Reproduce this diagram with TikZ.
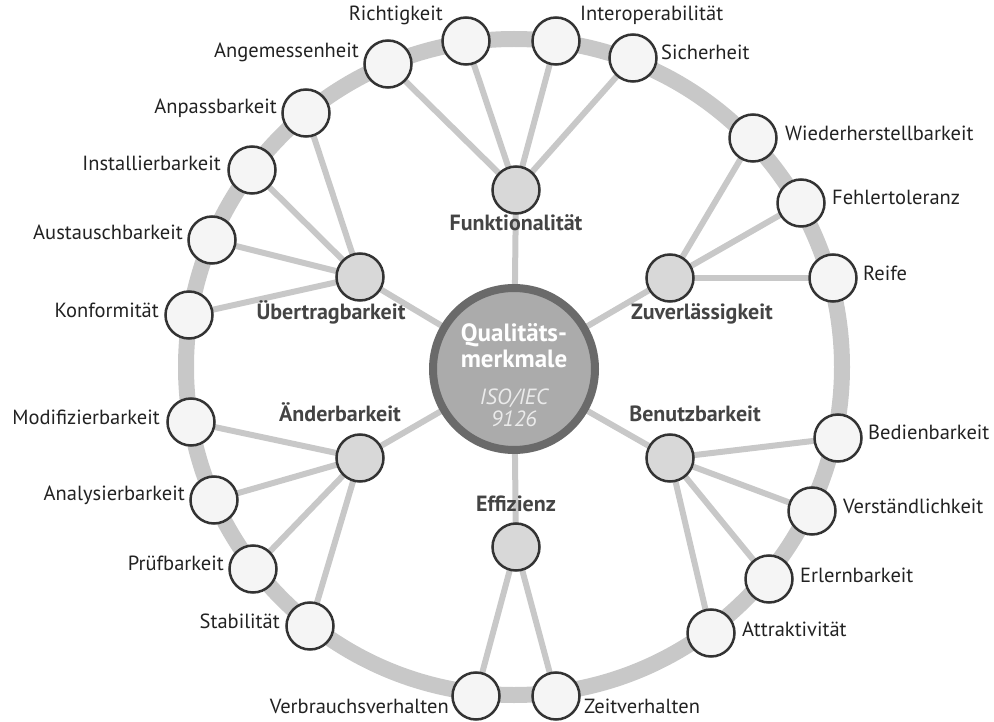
\documentclass[tikz,border=0pt]{standalone}
\usepackage{fontspec}
\setmainfont{PT Sans}
\usetikzlibrary{backgrounds}
\definecolor{ringgray}{HTML}{C8C8C8}
\definecolor{edgegray}{HTML}{333333}
\definecolor{leaffill}{HTML}{F5F5F5}
\definecolor{midfill}{HTML}{D8D8D8}
\definecolor{corefill}{HTML}{ABABAB}
\definecolor{coreedge}{HTML}{6A6A6A}
\definecolor{boldtext}{HTML}{444444}
\definecolor{plaintext}{HTML}{222222}
\tikzset{
  leaf/.style={circle, draw=edgegray, line width=2.5pt, fill=leaffill, minimum size=47pt, inner sep=0pt},
  mid/.style={circle, draw=edgegray, line width=2.5pt, fill=midfill, minimum size=47pt, inner sep=0pt},
  core/.style={circle, draw=coreedge, line width=8pt, fill=corefill, minimum size=162pt, inner sep=0pt},
  lbl/.style={inner sep=0pt, text height=0.7em, text depth=0.2em, font=\fontsize{20.5}{24}\selectfont, text=plaintext},
  grp/.style={inner sep=0pt, text height=0.7em, text depth=0.2em, font=\fontsize{22}{26}\selectfont\bfseries, text=boldtext},
  link/.style={draw=ringgray, line width=6pt},
}
\begin{document}
\begin{tikzpicture}[x=1pt, y=-1pt]
\useasboundingbox (0,0) rectangle (994,722);

% centre and the six characteristics
\node[core] (Q) at (514,369) {};
\node[mid] (F) at (516,190) {};
\node[mid] (U) at (360,277) {};
\node[mid] (Z) at (670,278) {};
\node[mid] (A) at (360,458) {};
\node[mid] (B) at (670,458) {};
\node[mid] (E) at (516,547) {};

% sub-characteristics
\node[leaf] (f1) at (388,64) {};
\node[leaf] (f2) at (466,41) {};
\node[leaf] (f3) at (556,41) {};
\node[leaf] (f4) at (633,58) {};
\node[leaf] (u1) at (306,113) {};
\node[leaf] (u2) at (252,170) {};
\node[leaf] (u3) at (212,240) {};
\node[leaf] (u4) at (189,315) {};
\node[leaf] (z1) at (753,138) {};
\node[leaf] (z2) at (801,203) {};
\node[leaf] (z3) at (833,278) {};
\node[leaf] (a1) at (191,422) {};
\node[leaf] (a2) at (214,500) {};
\node[leaf] (a3) at (253,569) {};
\node[leaf] (a4) at (310,626) {};
\node[leaf] (b1) at (838,438) {};
\node[leaf] (b2) at (812,511) {};
\node[leaf] (b3) at (769,579) {};
\node[leaf] (b4) at (711,633) {};
\node[leaf] (e1) at (476,696) {};
\node[leaf] (e2) at (556,696) {};

% outer ring and connectors, beneath the circles
\begin{scope}[on background layer]
  \draw[ringgray, line width=16pt] (514,367) circle[radius=328];
  \foreach \s/\t in {Q/F,Q/U,Q/Z,Q/A,Q/B,Q/E,
    F/f1,F/f2,F/f3,F/f4,U/u1,U/u2,U/u3,U/u4,Z/z1,Z/z2,Z/z3,
    A/a1,A/a2,A/a3,A/a4,B/b1,B/b2,B/b3,B/b4,E/e1,E/e2}
    \draw[link] (\s.center) -- (\t.center);
\end{scope}

% centre text
\node[text=white, font=\fontsize{25}{26}\selectfont\bfseries, align=center] (qt) at (514,346) {Qualitäts-\\merkmale};
\node[text=white!92!black, font=\fontsize{22}{22}\selectfont\itshape, align=center] (iso) at (514,408) {ISO/IEC\\9126};

% characteristic labels
\node[grp] (lF) at (516,228) {Funktionalität};
\node[grp] (lU) at (331,317) {Übertragbarkeit};
\node[grp] (lZ) at (702,317) {Zuverlässigkeit};
\node[grp] (lA) at (340,419) {Änderbarkeit};
\node[grp] (lB) at (695,419) {Benutzbarkeit};
\node[grp] (lE) at (516,509) {Effizienz};

% sub-characteristic labels
\node[lbl, anchor=east] (lf1) at (359,55) {Angemessenheit};
\node[lbl, anchor=east] (lf2) at (443,18) {Richtigkeit};
\node[lbl, anchor=west] (lf3) at (580,18) {Interoperabilität};
\node[lbl, anchor=west] (lf4) at (661,57) {Sicherheit};
\node[lbl, anchor=east] (lu1) at (277,111) {Anpassbarkeit};
\node[lbl, anchor=east] (lu2) at (221,168) {Installierbarkeit};
\node[lbl, anchor=east] (lu3) at (183,237) {Austauschbarkeit};
\node[lbl, anchor=east] (lu4) at (159,315) {Konformität};
\node[lbl, anchor=west] (lz1) at (785,138) {Wiederherstellbarkeit};
\node[lbl, anchor=west] (lz2) at (832,202) {Fehlertoleranz};
\node[lbl, anchor=west] (lz3) at (863,278) {Reife};
\node[lbl, anchor=east] (la1) at (160,422) {Modifizierbarkeit};
\node[lbl, anchor=east] (la2) at (185,498) {Analysierbarkeit};
\node[lbl, anchor=east] (la3) at (224,568) {Prüfbarkeit};
\node[lbl, anchor=east] (la4) at (280,626) {Stabilität};
\node[lbl, anchor=west] (lb1) at (868,437) {Bedienbarkeit};
\node[lbl, anchor=west] (lb2) at (843,511) {Verständlichkeit};
\node[lbl, anchor=west] (lb3) at (800,580) {Erlernbarkeit};
\node[lbl, anchor=west] (lb4) at (742,634) {Attraktivität};
\node[lbl, anchor=east] (le1) at (449,711) {Verbrauchsverhalten};
\node[lbl, anchor=west] (le2) at (584,711) {Zeitverhalten};
\end{tikzpicture}
\end{document}
